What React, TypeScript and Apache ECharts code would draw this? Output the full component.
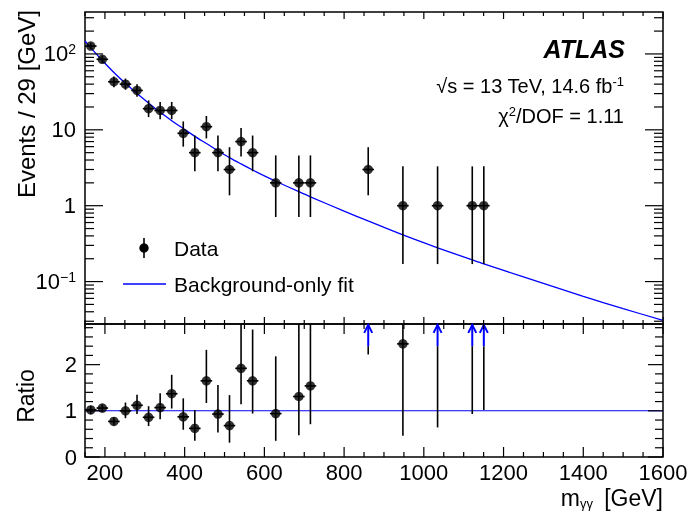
import React, { useEffect, useRef } from 'react';
import * as echarts from 'echarts';

// ---------------- data ----------------
const binCenters = [164.5, 193.5, 222.5, 251.5, 280.5, 309.5, 338.5, 367.5, 396.5, 425.5, 454.5, 483.5, 512.5, 541.5, 570.5, 628.5, 686.5, 715.5, 860.5, 947.5, 1034.5, 1121.5, 1150.5];
const binHalfWidth = 14.5;
const counts = [127, 85, 43, 40, 33, 19, 18, 18, 9, 5, 11, 5, 3, 7, 5, 2, 2, 2, 3, 1, 1, 1, 1];
const countLow = [116, 76, 36.5, 33.7, 27.3, 14.7, 13.8, 13.8, 6.0, 2.84, 7.7, 2.84, 1.37, 4.45, 2.84, 0.71, 0.71, 0.71, 1.37, 0.17, 0.17, 0.17, 0.17];
const countHigh = [139, 95, 50.6, 47.4, 40, 24.4, 23.3, 23.3, 12.9, 8.4, 15.2, 8.4, 5.9, 10.6, 8.4, 4.6, 4.6, 4.6, 5.9, 3.3, 3.3, 3.3, 3.3];

const fitX = [150, 164.5, 193.5, 222.5, 251.5, 280.5, 309.5, 338.5, 367.5, 396.5, 425.5, 454.5, 483.5, 512.5, 541.5, 570.5, 600, 628.5, 686.5, 715.5, 800, 860, 947.5, 1034.5, 1121.5, 1150.5, 1250, 1400, 1500, 1600];
const fitY = [148, 120, 82, 57, 41, 30, 22.5, 17, 13.2, 10.4, 8.2, 6.6, 5.3, 4.3, 3.55, 2.95, 2.47, 2.1, 1.53, 1.31, 0.849, 0.63, 0.412, 0.279, 0.193, 0.171, 0.115, 0.0638, 0.044, 0.0308];

const ratio = [1.02, 1.06, 0.77, 1.0, 1.12, 0.86, 1.07, 1.37, 0.87, 0.62, 1.65, 0.93, 0.68, 1.92, 1.65, 0.94, 1.31, 1.54, null, 2.45, null, null, null];
const ratioLow = [0.93, 0.97, 0.69, 0.84, 0.93, 0.67, 0.82, 1.05, 0.59, 0.35, 1.17, 0.53, 0.31, 1.14, 0.94, 0.35, 0.47, 0.71, 2.22, 0.46, 0.64, 0.93, 1.02];
const ratioHigh = [1.11, 1.14, 0.86, 1.18, 1.35, 1.1, 1.38, 1.78, 1.27, 1.02, 2.32, 1.56, 1.34, 2.95, 2.76, 2.18, 3.0, 3.5, null, 8.0, null, null, null];
const ratioRefX = [150, 1600];
const ratioRefY = [1, 1];

const xTickLabels = [200, 400, 600, 800, 1000, 1200, 1400, 1600];
const yTickLabels = [0.1, 1, 10, 100];
const ratioTickLabels = [0, 1, 2];

// ---------------- style / layout ----------------
const FONT = '"Liberation Sans", Arial, Helvetica, sans-serif';
const BLUE = '#0000ff';
const X_MIN = 150;
const X_MAX = 1600;
const Y_MIN = 0.0276;
const Y_MAX = 357;
const R_MIN = 0;
const R_MAX = 2.88;
const ARROW_BASE = 2.4;
const ARROW_TIP = 2.86;
const lg = (v: number) => Math.log10(v);

const xMinorTicks: number[] = [];
for (let v = X_MIN; v <= X_MAX; v += 50) if (v % 200 !== 0) xMinorTicks.push(v);
const logMinorTicks: number[] = [];
for (let d = -2; d <= 2; d++) {
  for (let k = 2; k <= 9; k++) {
    const v = Math.log10(k) + d;
    if (v > lg(Y_MIN) && v < lg(Y_MAX)) logMinorTicks.push(v);
  }
}
const ratioMinorTicks: number[] = [];
for (let i = 1; i <= 14; i++) {
  const v = Math.round(i * 0.2 * 10) / 10;
  if (Math.abs(v - Math.round(v)) > 1e-6 && v < R_MAX) ratioMinorTicks.push(v);
}

function tickSeries(idx: number, dir: 'x' | 'y', values: number[], len: number, xr: number[], yr: number[]) {
  return {
    type: 'custom',
    xAxisIndex: idx,
    yAxisIndex: idx,
    silent: true,
    clip: false,
    z: 10,
    data: values.map((v) => [v, v]),
    renderItem: (_p: any, api: any) => {
      const v = api.value(0);
      const st = { stroke: '#000', lineWidth: 1.2 };
      if (dir === 'x') {
        const a = api.coord([v, yr[0]]);
        const b = api.coord([v, yr[1]]);
        return {
          type: 'group',
          children: [
            { type: 'line', shape: { x1: a[0], y1: a[1], x2: a[0], y2: a[1] - len }, style: st },
            { type: 'line', shape: { x1: b[0], y1: b[1], x2: b[0], y2: b[1] + len }, style: st },
          ],
        };
      }
      const a = api.coord([xr[0], v]);
      const b = api.coord([xr[1], v]);
      return {
        type: 'group',
        children: [
          { type: 'line', shape: { x1: a[0], y1: a[1], x2: a[0] + len, y2: a[1] }, style: st },
          { type: 'line', shape: { x1: b[0], y1: b[1], x2: b[0] - len, y2: b[1] }, style: st },
        ],
      };
    },
  };
}

function errorBarRender(_p: any, api: any) {
  const x = api.value(0);
  const y = api.value(1);
  const lo = api.value(2);
  const hi = api.value(3);
  const pLo = api.coord([x, lo]);
  const pHi = api.coord([x, hi]);
  const pL = api.coord([x - binHalfWidth, y]);
  const pR = api.coord([x + binHalfWidth, y]);
  const st = { stroke: '#000', lineWidth: 1.6 };
  return {
    type: 'group',
    children: [
      { type: 'line', shape: { x1: pLo[0], y1: pLo[1], x2: pHi[0], y2: pHi[1] }, style: st },
      { type: 'line', shape: { x1: pL[0], y1: pL[1], x2: pR[0], y2: pR[1] }, style: st },
    ],
  };
}

function buildOption(): any {
  const yr0 = [lg(Y_MIN), lg(Y_MAX)];
  const yr1 = [R_MIN, R_MAX];
  const xr = [X_MIN, X_MAX];

  const topErr = binCenters.map((x, i) => [x, lg(counts[i]), lg(countLow[i]), lg(countHigh[i])]);
  const topPts = binCenters.map((x, i) => [x, lg(counts[i])]);
  const fitData = fitX.map((x, i) => [x, lg(fitY[i])]);

  const shown = binCenters.map((_, i) => i).filter((i) => ratio[i] !== null);
  const arrows = binCenters.map((_, i) => i).filter((i) => ratio[i] === null);
  const rErr = shown.map((i) => [binCenters[i], ratio[i], ratioLow[i], ratioHigh[i]]);
  const rPts = shown.map((i) => [binCenters[i], ratio[i]]);
  const arrowData = arrows.map((i) => [binCenters[i], ratioLow[i]]);

  const hidden = {
    axisLine: { show: false, onZero: false },
    axisTick: { show: false },
    splitLine: { show: false },
  };

  const axisLabelBase = { color: '#000', fontFamily: FONT, fontSize: 22 };

  return {
    animation: false,
    textStyle: { fontFamily: FONT, color: '#000' },
    grid: [
      { left: 85, top: 12, width: 578, height: 312, show: true, borderColor: '#000', borderWidth: 1.5, backgroundColor: 'transparent', containLabel: false, outerBoundsMode: 'none' },
      { left: 85, top: 324, width: 578, height: 133, show: true, borderColor: '#000', borderWidth: 1.5, backgroundColor: 'transparent', containLabel: false, outerBoundsMode: 'none' },
    ],
    xAxis: [
      { gridIndex: 0, type: 'value', min: X_MIN, max: X_MAX, ...hidden, axisLabel: { show: false } },
      {
        gridIndex: 1, type: 'value', min: X_MIN, max: X_MAX, interval: 50, ...hidden,
        axisLabel: {
          ...axisLabelBase, show: true, margin: 4, interval: 0,
          customValues: xTickLabels,
          formatter: (v: number) => (xTickLabels.indexOf(Math.round(v)) >= 0 ? String(Math.round(v)) : ''),
        },
      },
    ],
    yAxis: [
      {
        gridIndex: 0, type: 'value', min: yr0[0], max: yr0[1], ...hidden,
        axisLabel: {
          ...axisLabelBase, show: true, margin: 9,
          customValues: yTickLabels.map(lg),
          formatter: (v: number) => {
            const r = Math.round(v);
            if (r === 0) return '{b|1}';
            if (r === 1) return '{b|10}';
            return '{b|10}{s|' + (r < 0 ? '\u2212' : '') + Math.abs(r) + '}';
          },
          rich: {
            b: { fontSize: 22, fontFamily: FONT, color: '#000', lineHeight: 24 },
            s: { fontSize: 14, fontFamily: FONT, color: '#000', lineHeight: 13, verticalAlign: 'top' },
          },
        },
      },
      {
        gridIndex: 1, type: 'value', min: R_MIN, max: R_MAX, ...hidden,
        axisLabel: {
          ...axisLabelBase, show: true, margin: 8,
          customValues: ratioTickLabels,
          formatter: (v: number) => String(Math.round(v)),
        },
      },
    ],
    series: [
      {
        name: 'Background-only fit', type: 'line', xAxisIndex: 0, yAxisIndex: 0,
        data: fitData, smooth: 0.3, showSymbol: false, symbol: 'none', clip: true, z: 2,
        lineStyle: { color: BLUE, width: 1.3 }, itemStyle: { color: BLUE },
      },
      { type: 'custom', xAxisIndex: 0, yAxisIndex: 0, data: topErr, renderItem: errorBarRender, clip: true, z: 3, silent: true },
      {
        name: 'Data', type: 'scatter', xAxisIndex: 0, yAxisIndex: 0, data: topPts,
        symbol: 'circle', symbolSize: 9.5, itemStyle: { color: '#000' }, z: 4, silent: true,
      },
      {
        type: 'line', xAxisIndex: 1, yAxisIndex: 1, data: ratioRefX.map((x, i) => [x, ratioRefY[i]]),
        showSymbol: false, symbol: 'none', lineStyle: { color: BLUE, width: 1.1 }, z: 2, silent: true,
      },
      { type: 'custom', xAxisIndex: 1, yAxisIndex: 1, data: rErr, renderItem: errorBarRender, clip: true, z: 3, silent: true },
      {
        type: 'scatter', xAxisIndex: 1, yAxisIndex: 1, data: rPts,
        symbol: 'circle', symbolSize: 9.5, itemStyle: { color: '#000' }, z: 4, silent: true,
      },
      {
        type: 'custom', xAxisIndex: 1, yAxisIndex: 1, data: arrowData, clip: false, z: 4, silent: true,
        renderItem: (_p: any, api: any) => {
          const x = api.value(0);
          const lo = api.value(1);
          const pLo = api.coord([x, lo]);
          const pB = api.coord([x, ARROW_BASE]);
          const pT = api.coord([x, ARROW_TIP]);
          return {
            type: 'group',
            children: [
              { type: 'line', shape: { x1: pLo[0], y1: pLo[1], x2: pB[0], y2: pB[1] }, style: { stroke: '#000', lineWidth: 1.6 } },
              { type: 'line', shape: { x1: pB[0], y1: pB[1], x2: pT[0], y2: pT[1] }, style: { stroke: BLUE, lineWidth: 2 } },
              { type: 'polyline', shape: { points: [[pT[0] - 4, pT[1] + 8], [pT[0], pT[1]], [pT[0] + 4, pT[1] + 8]] }, style: { stroke: BLUE, lineWidth: 2, fill: 'none' } },
            ],
          };
        },
      },
      tickSeries(0, 'x', xTickLabels, 7, xr, yr0),
      tickSeries(0, 'x', xMinorTicks, 4, xr, yr0),
      tickSeries(0, 'y', yTickLabels.map(lg), 18, xr, yr0),
      tickSeries(0, 'y', logMinorTicks, 9, xr, yr0),
      tickSeries(1, 'x', xTickLabels, 10, xr, yr1),
      tickSeries(1, 'x', xMinorTicks, 5, xr, yr1),
      tickSeries(1, 'y', ratioTickLabels, 15, xr, yr1),
      tickSeries(1, 'y', ratioMinorTicks, 8, xr, yr1),
    ],
    graphic: [
      { type: 'text', x: 26, y: 10, rotation: Math.PI / 2, style: { text: 'Events / 29 [GeV]', font: '24px ' + FONT, fill: '#000', align: 'right', verticalAlign: 'middle' } },
      { type: 'text', x: 26, y: 396, rotation: Math.PI / 2, style: { text: 'Ratio', font: '23px ' + FONT, fill: '#000', align: 'center', verticalAlign: 'middle' } },
      { type: 'text', x: 580, y: 498, style: { text: 'm', font: '23px ' + FONT, fill: '#000', align: 'right', verticalAlign: 'middle' } },
      { type: 'text', x: 580, y: 503, style: { text: '\u03b3\u03b3', font: '13px ' + FONT, fill: '#000', align: 'left', verticalAlign: 'middle' } },
      { type: 'text', x: 663, y: 498, style: { text: '[GeV]', font: '23px ' + FONT, fill: '#000', align: 'right', verticalAlign: 'middle' } },
      { type: 'text', x: 625, y: 49, style: { text: 'ATLAS', font: 'italic bold 25px ' + FONT, fill: '#000', align: 'right', verticalAlign: 'middle' } },
      {
        type: 'text', x: 624, y: 86,
        style: {
          text: '{a|\u221as = 13 TeV, 14.6 fb}{s|-1}', align: 'right', verticalAlign: 'middle', fill: '#000',
          rich: { a: { fontSize: 20, fontFamily: FONT, lineHeight: 22 }, s: { fontSize: 13, fontFamily: FONT, lineHeight: 12, verticalAlign: 'top' } },
        },
      },
      {
        type: 'text', x: 624, y: 116,
        style: {
          text: '{a|\u03c7}{s|2}{a|/DOF = 1.11}', align: 'right', verticalAlign: 'middle', fill: '#000',
          rich: { a: { fontSize: 20, fontFamily: FONT, lineHeight: 22 }, s: { fontSize: 13, fontFamily: FONT, lineHeight: 12, verticalAlign: 'top' } },
        },
      },
      // legend
      { type: 'line', shape: { x1: 144, y1: 238, x2: 144, y2: 258 }, style: { stroke: '#000', lineWidth: 1.6 } },
      { type: 'circle', shape: { cx: 144, cy: 248, r: 4.7 }, style: { fill: '#000' } },
      { type: 'text', x: 174, y: 248, style: { text: 'Data', font: '21px ' + FONT, fill: '#000', align: 'left', verticalAlign: 'middle' } },
      { type: 'line', shape: { x1: 123, y1: 284, x2: 166, y2: 284 }, style: { stroke: BLUE, lineWidth: 1.5 } },
      { type: 'text', x: 174, y: 284, style: { text: 'Background-only fit', font: '21px ' + FONT, fill: '#000', align: 'left', verticalAlign: 'middle' } },
    ],
  };
}

export default function App() {
  const ref = useRef<HTMLDivElement>(null);
  useEffect(() => {
    if (!ref.current) return;
    const chart = echarts.init(ref.current, null, { renderer: 'svg' });
    chart.setOption(buildOption());
    return () => chart.dispose();
  }, []);
  return <div ref={ref} style={{ position: 'fixed', left: 0, top: 0, width: 692, height: 513 }} />;
}
